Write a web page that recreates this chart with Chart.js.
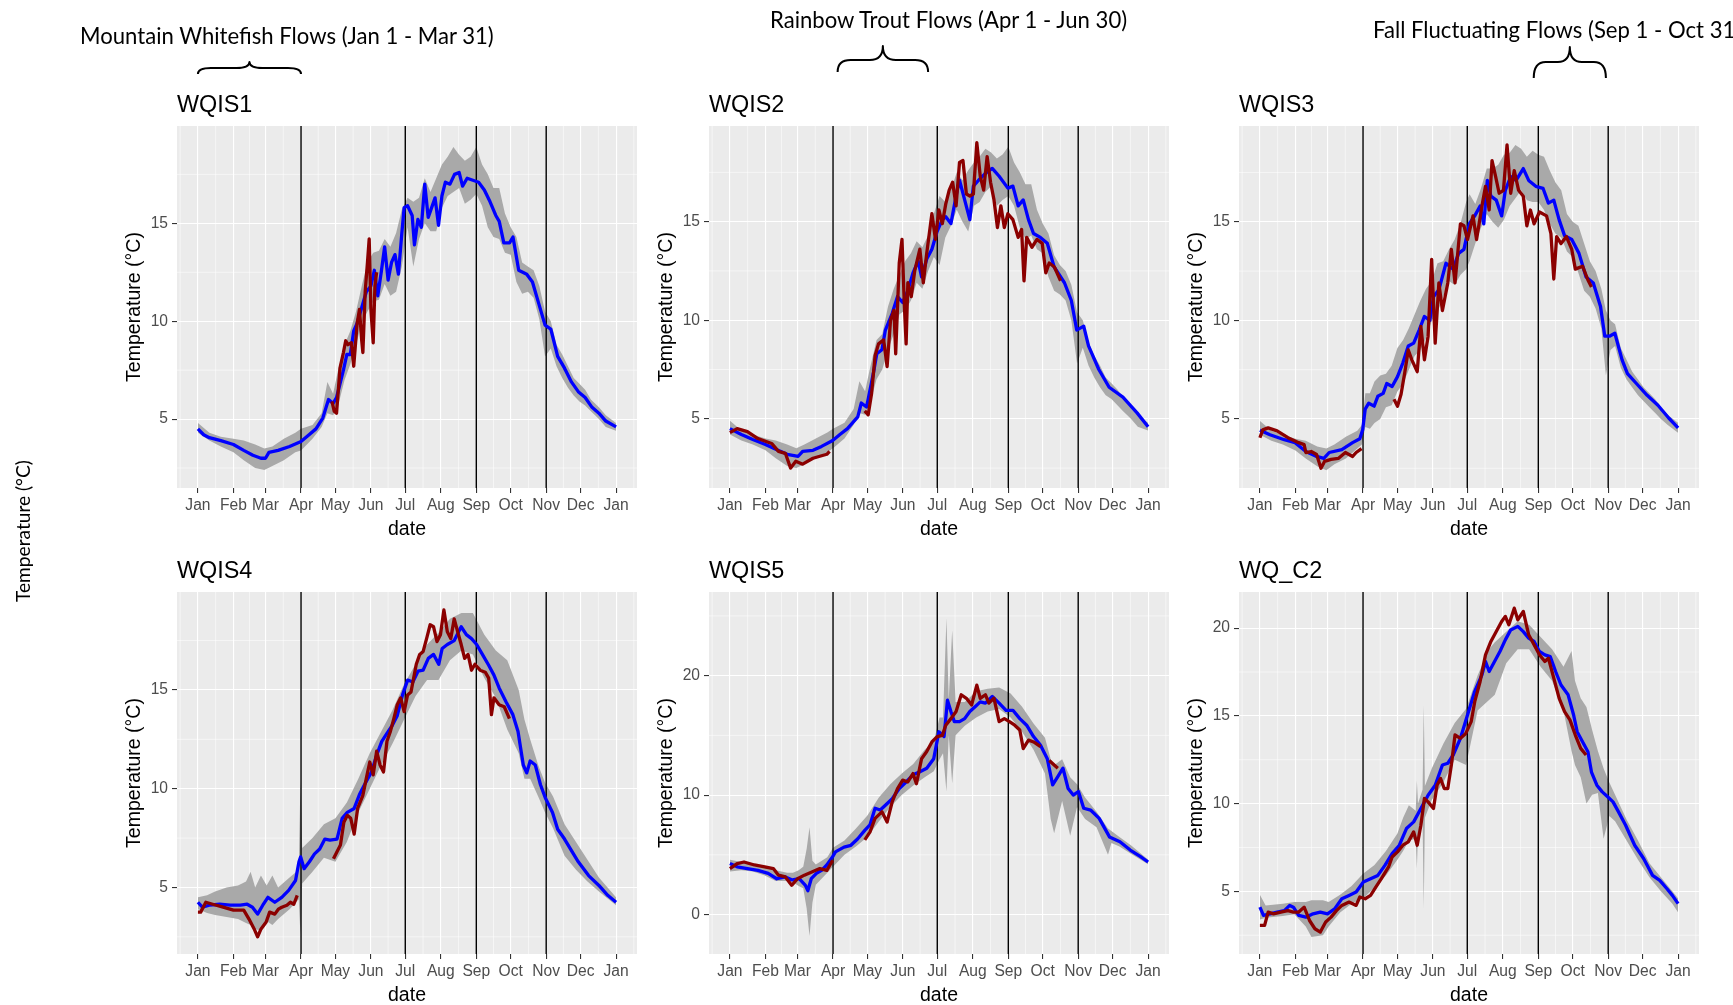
<!DOCTYPE html>
<html>
<head>
<meta charset="utf-8">
<title>Water temperature by station</title>
<script src="https://cdn.jsdelivr.net/npm/chart.js@4.4.1/dist/chart.umd.min.js"></script>
<style>
  html, body { margin: 0; padding: 0; background: #ffffff; }
  body { position: relative; width: 1733px; height: 1005px; overflow: hidden; }
  canvas { position: absolute; }
  #overlay { position: absolute; left: 0; top: 0; z-index: 5; pointer-events: none; }
  #overlay text { font-family: Lato, 'Open Sans', sans-serif; fill: #000000; }
</style>
</head>
<body>
<svg id="overlay" width="1733" height="1005" xmlns="http://www.w3.org/2000/svg">
  <text id="note1" x="80" y="43.5">Mountain Whitefish Flows (Jan 1 - Mar 31)</text>
  <text id="note2" x="770" y="28">Rainbow Trout Flows (Apr 1 - Jun 30)</text>
  <text id="note3" x="1373" y="37.5">Fall Fluctuating Flows (Sep 1 - Oct 31)</text>
  <text id="sideLabel" transform="translate(22,531) rotate(-90)" text-anchor="middle" dominant-baseline="central">Temperature (°C)</text>
</svg>
<script>
// ---- calendar axis (day of year, non-leap) ----
const MONTH_STARTS = [0, 31, 59, 90, 120, 151, 181, 212, 243, 273, 304, 334, 365];
const MONTH_LABELS = ['Jan', 'Feb', 'Mar', 'Apr', 'May', 'Jun', 'Jul', 'Aug', 'Sep', 'Oct', 'Nov', 'Dec', 'Jan'];
const FLOW_CHANGES = [90, 181, 243, 304]; // Apr 1, Jul 1, Sep 1, Nov 1

// ---- WQIS1 ----
const wqis1Mean = [[0,4.5],[5,4.2],[10,4.05],[20,3.9],[31,3.7],[40,3.4],[48,3.15],[55,3.0],[59,3.0],[62,3.3],[70,3.4],[80,3.6],[90,3.85],[97,4.2],[103,4.5],[109,5.05],[114,6.0],[118,5.8],[121,6.1],[124,6.8],[127,7.5],[130,8.3],[133,8.3],[136,9.5],[139,9.9],[143,10.7],[147,11.5],[151,11.8],[154,12.6],[157,11.3],[160,12.5],[163,13.8],[166,12.1],[169,13.0],[172,13.4],[175,12.4],[178,14.5],[180,15.8],[183,15.9],[187,15.4],[189,13.9],[192,15.2],[195,14.8],[198,17.0],[201,15.3],[204,15.8],[207,16.3],[210,14.9],[213,16.4],[216,17.1],[220,17.0],[224,17.5],[228,17.6],[231,16.9],[235,17.3],[240,17.2],[245,17.1],[250,16.7],[255,16.1],[260,15.4],[263,15.1],[267,14.0],[272,14.0],[275,14.3],[280,12.6],[287,12.4],[292,12.0],[297,11.0],[303,9.8],[308,9.6],[314,8.2],[320,7.6],[326,6.9],[332,6.4],[338,6.1],[344,5.6],[350,5.3],[356,4.9],[365,4.6]];
const wqis1Obs = [[117,5.9],[119,5.4],[121,5.3],[124,7.6],[127,8.4],[129,9.0],[131,8.8],[134,8.9],[136,7.7],[139,9.9],[141,10.6],[143,9.0],[144,8.4],[146,11.5],[148,13.0],[149.5,14.2],[151,10.6],[153,8.9],[154.5,11.8],[156,12.5]];
const wqis1Range = [[0,4.3,4.8],[10,3.9,4.3],[20,3.6,4.1],[31,3.3,4.0],[40,2.9,3.9],[50,2.5,3.7],[58,2.4,3.5],[65,2.6,3.6],[75,2.9,4.0],[85,3.3,4.3],[90,3.4,4.5],[100,4.0,4.7],[108,4.6,5.3],[113,5.3,6.9],[118,5.2,6.3],[122,5.6,7.4],[128,7.0,8.8],[133,7.8,9.5],[138,8.8,10.5],[143,9.9,11.8],[148,10.5,13.0],[153,11.0,13.5],[158,11.1,13.6],[163,11.9,14.2],[168,11.3,13.8],[173,11.5,14.5],[178,12.8,15.7],[183,14.8,16.3],[188,12.8,16.1],[193,14.2,16.3],[198,15.0,17.3],[203,14.6,16.6],[208,14.6,17.3],[213,15.8,18.0],[218,16.4,18.4],[223,16.6,18.9],[228,16.8,18.5],[233,16.0,18.2],[238,16.2,18.4],[243,16.5,18.9],[248,15.9,18.0],[253,14.8,17.5],[258,14.3,16.8],[263,14.2,16.8],[268,13.5,15.5],[273,13.4,14.8],[278,12.0,14.3],[283,11.4,13.0],[288,11.5,12.8],[293,11.2,12.6],[298,10.1,11.8],[303,8.2,10.5],[308,8.6,10.0],[313,7.7,8.8],[318,7.1,8.3],[323,6.6,7.7],[328,6.2,7.1],[333,5.9,6.8],[338,5.7,6.5],[343,5.4,6.0],[350,5.0,5.6],[356,4.6,5.2],[365,4.4,4.8]];

// ---- WQIS2 ----
const wqis2Mean = [[0,4.5],[10,4.2],[20,3.95],[31,3.7],[42,3.4],[50,3.2],[59.6,3.1],[63.5,3.35],[72.5,3.4],[80,3.6],[89.7,3.9],[96,4.2],[102.6,4.5],[111.6,5.1],[114.7,5.8],[119.2,5.6],[120.7,6.0],[125.2,7.3],[128.2,8.3],[132.7,8.5],[135.7,9.5],[141.7,10.35],[146.3,11.2],[150.8,10.9],[155.3,11.5],[159.8,12.4],[164.3,13.0],[167.3,12.2],[171.8,13.1],[176.3,13.6],[180.8,14.5],[185.4,15.1],[188.4,15.25],[192.9,14.9],[197.4,16.3],[200.4,17.1],[204.9,16.1],[209.4,15.1],[212.5,16.8],[217,17.1],[223,17.45],[229,17.7],[235,17.3],[242.6,16.7],[247,16.8],[251.6,15.8],[256,16.1],[260.6,15.1],[265,14.4],[271,14.2],[277,13.9],[283,12.7],[292,11.9],[298,11.0],[302.7,9.5],[308.8,9.7],[313,8.7],[322,7.5],[331,6.6],[343,6.1],[355.4,5.3],[365,4.6]];
const wqis2Obs = [[0,4.3],[6.3,4.5],[15.3,4.35],[24.4,4.0],[36.4,3.75],[42.4,3.35],[48.4,3.25],[53,2.5],[57.5,2.85],[63.5,2.7],[72.5,3.0],[78.5,3.1],[84.6,3.2],[87,3.35],[100,null],[117.7,5.4],[120.7,5.2],[123.7,6.3],[126.7,8.2],[129.7,8.8],[134.2,9.0],[137.2,7.65],[140.2,10.0],[143.2,10.5],[144.7,8.3],[147.8,12.9],[150.2,14.1],[152.3,10.7],[153.8,8.8],[155.3,11.9],[158.3,11.2],[161.3,12.5],[165.8,13.6],[168.8,11.9],[171.8,13.4],[176.3,15.4],[179.4,14.1],[182.4,15.6],[185.4,14.9],[188.4,15.9],[191.4,16.6],[194.4,17.0],[197.4,15.8],[200.4,18.0],[203.4,18.1],[206.4,16.4],[209.4,16.3],[212.5,16.4],[215.5,19.0],[218.5,17.3],[221.5,16.6],[224.5,18.3],[227.5,17.0],[230.5,16.1],[233.5,14.7],[236.5,15.8],[239.5,14.7],[242.6,15.4],[247,15.1],[251.6,14.2],[254.6,14.6],[256.7,12.0],[259,14.2],[263.6,13.7],[268,14.1],[272.6,13.9],[275.7,12.4],[278.7,12.9],[283.2,12.7],[288.6,12.0]];
const wqis2Range = [[0,4.2,4.9],[10,3.9,4.4],[20,3.7,4.2],[31,3.4,4.0],[40,3.0,3.9],[50,2.6,3.7],[58,2.5,3.5],[65,2.7,3.7],[75,3.0,4.0],[85,3.3,4.3],[90,3.5,4.5],[100,4.0,4.8],[108,4.7,5.5],[113,5.3,6.9],[118,5.2,6.4],[122,5.7,7.5],[128,7.0,9.0],[133,7.5,9.3],[138,8.5,10.7],[143,9.3,11.6],[148,10.3,12.3],[153,10.5,13.0],[158,11.0,13.4],[163,11.9,14.0],[168,11.6,13.7],[173,12.5,14.3],[178,13.2,15.4],[183,12.8,16.3],[188,14.2,16.0],[193,14.8,16.6],[198,15.6,17.5],[203,15.0,17.1],[208,14.5,17.6],[213,15.8,18.0],[218,16.0,18.3],[223,16.5,18.7],[228,16.8,18.5],[233,15.8,18.2],[238,16.1,18.4],[243,16.3,18.8],[248,15.8,18.0],[253,14.7,17.5],[258,14.1,16.9],[263,14.3,16.9],[268,13.6,15.6],[273,13.4,14.9],[278,12.2,14.4],[283,11.5,13.3],[288,11.3,12.8],[293,11.0,12.5],[298,10.0,11.8],[303,7.8,10.4],[308,8.6,10.0],[313,7.7,8.9],[318,7.1,8.2],[323,6.6,7.7],[328,6.2,7.1],[333,6.0,6.8],[338,5.7,6.5],[343,5.4,6.1],[350,5.0,5.6],[356,4.6,5.2],[365,4.4,4.8]];

// ---- WQIS3 ----
const wqis3Mean = [[0,4.43],[8.8,4.2],[21.3,3.95],[30.7,3.8],[40.1,3.35],[49.5,3.1],[55.8,3.0],[60.5,3.3],[71.5,3.45],[80.9,3.8],[87.2,4.0],[89.7,4.45],[91.9,5.5],[95,5.8],[99.7,5.65],[102.9,6.15],[107.6,6.3],[110.7,6.8],[115.4,6.65],[120.1,7.15],[124.8,7.85],[129.5,8.7],[134.2,8.85],[138.9,9.5],[143.6,10.2],[148.3,10.0],[151.5,11.2],[156.2,11.55],[162.4,12.9],[168.7,12.6],[173.4,13.4],[178.1,13.6],[182.8,14.9],[187.5,15.3],[192.2,15.8],[195.4,14.9],[198.5,17.1],[201.6,16.3],[206.3,16.1],[211,15.3],[214.2,16.6],[218.9,17.3],[223.6,17.1],[229.9,17.7],[234.6,17.1],[240.8,16.8],[247.1,16.7],[251.8,15.95],[256.5,16.1],[261.2,15.1],[265.9,14.3],[272.2,14.1],[278.5,13.4],[284.7,12.2],[291,11.9],[297.3,10.7],[301,9.2],[305.1,9.2],[309.8,9.35],[316.1,8.0],[320.8,7.3],[328.6,6.8],[338,6.2],[347.4,5.7],[356.8,5.05],[365,4.55]];
const wqis3Obs = [[0,4.05],[2.5,4.45],[7.2,4.55],[15,4.4],[24.5,4.05],[33.9,3.8],[38.6,3.7],[40.1,3.3],[44.8,3.35],[49.5,3.2],[53.3,2.5],[56.4,2.85],[62.1,2.95],[68.4,3.0],[74.6,3.3],[80.9,3.1],[84,3.3],[88.7,3.5],[100,null],[117,6.0],[120.1,5.65],[123.2,6.25],[126.4,7.35],[129.5,8.5],[132.6,8.0],[137.3,7.4],[140.5,9.7],[143.6,8.0],[146.8,9.2],[149.9,13.1],[153,8.85],[156.2,11.9],[159.3,10.5],[164,11.9],[167.1,13.6],[170.3,11.9],[175,14.9],[178.1,14.8],[181.2,14.1],[186,15.3],[189.1,14.1],[193.8,15.8],[196.9,16.8],[200.1,15.6],[202.6,18.1],[205.7,17.3],[208.8,16.45],[212.6,16.6],[215.7,18.9],[218.9,16.45],[222,17.6],[225.8,16.6],[229.9,16.3],[233,14.8],[236.1,15.6],[239.3,14.9],[244,15.5],[250.2,15.3],[254,14.4],[256.5,12.1],[259,14.25],[262.8,13.9],[267.5,14.25],[272.2,13.6],[275.3,12.6],[281.6,12.75],[286.3,12.05],[289.4,11.7]];
const wqis3Range = [[0,4.2,4.9],[10,3.9,4.4],[20,3.7,4.2],[31,3.4,4.0],[40,3.0,3.9],[50,2.6,3.6],[58,2.4,3.5],[65,2.7,3.7],[75,3.0,4.1],[85,3.5,4.4],[89,3.7,4.7],[92,4.6,6.3],[96,4.5,6.3],[100,4.8,6.9],[105,5.0,7.2],[110,5.6,7.3],[115,5.7,7.7],[120,6.4,8.6],[125,6.8,9.0],[130,7.5,9.6],[135,8.2,10.3],[140,8.5,11.0],[145,9.1,11.6],[150,10.0,12.0],[155,10.4,12.9],[160,11.2,13.0],[165,12.0,13.6],[170,11.8,14.1],[175,12.3,14.9],[180,12.6,16.0],[183,13.0,16.4],[188,13.9,15.9],[193,14.7,16.7],[198,15.4,17.7],[203,15.0,17.7],[208,14.7,17.9],[213,15.1,18.4],[218,15.8,18.5],[223,16.2,18.9],[228,16.6,18.7],[233,16.1,18.3],[238,16.0,18.6],[243,16.0,18.4],[248,15.6,18.3],[253,14.9,17.6],[258,14.4,17.0],[263,14.2,16.6],[268,13.5,15.4],[273,13.2,15.0],[278,12.4,14.8],[283,11.5,13.9],[288,11.2,13.0],[293,10.6,12.5],[298,9.6,11.6],[302,7.2,10.5],[306,8.5,10.0],[310,8.7,9.8],[315,7.6,8.6],[320,7.0,8.0],[325,6.6,7.4],[330,6.2,7.0],[335,5.9,6.6],[340,5.6,6.3],[345,5.3,6.0],[350,5.0,5.6],[356,4.7,5.2],[365,4.3,4.8]];

// ---- WQIS4 ----
const wqis4Mean = [[0,4.25],[3.9,4.0],[9.9,4.1],[19,4.15],[28,4.1],[37,4.1],[43,4.15],[47.6,4.0],[52.1,3.65],[56.6,4.1],[61.1,4.5],[67.1,4.25],[73.2,4.5],[79.2,4.85],[85.2,5.35],[88.2,6.3],[89.7,6.55],[92.7,5.95],[97.3,6.3],[101.8,6.7],[106.3,6.95],[110.8,7.45],[115.3,7.4],[121.4,7.45],[125.9,8.5],[130.4,8.8],[136.4,9.0],[141,9.7],[145.4,10.2],[151.5,10.85],[156,11.7],[160.5,12.4],[165,12.8],[169.6,13.2],[174,13.7],[178.6,14.75],[183.1,15.5],[187.6,15.4],[192.1,15.95],[196.6,16.0],[201.1,16.6],[205.7,16.8],[210.2,16.3],[213.2,17.1],[217.7,17.3],[223.7,17.5],[229.8,18.2],[234.3,17.8],[238.8,17.6],[243.3,17.3],[247.8,16.85],[253.8,16.25],[258.4,15.75],[262.9,15.1],[268.9,14.4],[274.9,13.75],[279.4,12.9],[284,11.2],[287,10.8],[290,11.4],[294.5,11.2],[299,10.2],[303.5,9.5],[309.5,8.8],[314,7.95],[320,7.45],[324.6,7.0],[332,6.3],[341,5.6],[350,5.1],[357.7,4.6],[365,4.25]];
const wqis4Obs = [[0,3.75],[2.4,3.75],[6.9,4.25],[12.9,4.15],[22,4.0],[31,3.85],[40,3.85],[44.6,3.4],[49.1,2.9],[52.1,2.5],[55.1,2.9],[59.6,3.25],[62.6,3.75],[67.1,3.65],[70.2,3.9],[73.2,4.0],[77.7,4.1],[80.7,4.25],[83.7,4.15],[86.7,4.6],[100,null],[118.3,6.45],[121.3,6.8],[124.4,7.15],[127.4,8.3],[130.4,8.65],[133.4,8.5],[136.4,7.7],[139.4,9.0],[143.9,9.65],[146.9,10.5],[150,11.35],[153,10.7],[156,11.9],[159,11.2],[162,10.85],[165,12.4],[168,12.9],[171,13.55],[174,14.25],[177,14.6],[180,13.9],[183,14.75],[186,14.9],[190.6,16.3],[193.6,16.8],[196.6,16.95],[199.6,17.6],[202.7,18.3],[205.7,18.2],[208.7,17.45],[211.7,17.8],[214.7,19.05],[217.7,17.95],[220.7,17.6],[223.7,18.6],[226.7,17.95],[229.8,17.3],[232.8,16.6],[235.8,16.8],[238.8,16.0],[241.8,16.3],[246.3,16.0],[250.8,15.9],[253.8,15.6],[256.2,13.75],[258.4,14.6],[262.9,14.25],[267.4,14.15],[271.9,13.55]];
const wqis4Range = [[0,3.9,4.5],[8,3.7,4.6],[15,3.6,4.8],[25,3.5,5.0],[35,3.4,5.1],[42,3.2,5.3],[46,3.1,5.8],[50,2.9,5.0],[55,2.8,5.6],[60,3.3,5.1],[65,3.1,5.6],[70,3.4,5.0],[80,3.9,5.5],[88,4.4,5.9],[89.5,2.6,10.4],[91,5.2,7.0],[100,5.8,7.5],[110,6.5,8.2],[120,6.3,8.5],[130,7.3,9.3],[140,8.8,10.5],[150,10.0,11.8],[160,11.2,12.9],[170,12.3,14.0],[180,13.5,15.3],[190,14.7,16.3],[200,15.5,17.3],[210,15.5,17.9],[220,16.5,18.6],[230,17.0,18.9],[240,16.8,18.9],[250,15.6,17.8],[260,14.6,17.0],[270,13.0,16.5],[280,11.8,15.0],[285,10.5,13.5],[290,10.5,12.5],[297,9.6,11.2],[303,8.8,10.3],[310,8.0,9.6],[320,6.6,8.2],[330,5.9,7.3],[340,5.3,6.4],[350,4.8,5.5],[365,4.1,4.5]];

// ---- WQIS5 ----
const wqis5Mean = [[0,4.27],[6.3,4.0],[15.3,3.85],[24.4,3.7],[33.4,3.45],[40.9,3.0],[48.4,3.15],[54.5,2.9],[60.5,3.0],[65.9,2.45],[68,2.0],[71,3.0],[75.5,3.45],[80,3.7],[84.6,4.15],[89.7,4.85],[92.1,5.25],[99.6,5.65],[105.6,5.8],[111.6,6.35],[117.7,7.05],[122.2,7.5],[126.7,8.9],[131.2,8.75],[135.7,9.15],[141.7,9.7],[147.8,10.55],[153.8,11.1],[159.8,11.7],[165.8,11.95],[171.8,12.25],[177.9,13.05],[182.4,15.3],[186.9,14.9],[189.9,17.95],[192.9,17.0],[195.9,16.15],[200.4,16.15],[204.9,16.4],[209.4,17.0],[214,17.4],[218.5,17.8],[223,17.7],[229,18.25],[235,17.7],[241,17.1],[247,17.1],[253,16.4],[259,15.85],[265,14.9],[271,14.2],[277,13.05],[281.7,10.85],[286.2,11.55],[290.7,12.25],[295.2,10.55],[299.7,10.0],[304.2,10.3],[308.8,8.9],[314.8,8.75],[322.3,8.05],[331.3,6.5],[340.4,6.1],[349.4,5.4],[358.4,4.85],[365,4.4]];
const wqis5Obs = [[0,3.85],[6.3,4.27],[12.3,4.4],[21.4,4.15],[30.4,4.0],[37.9,3.85],[42.4,3.3],[48.4,3.15],[53.9,2.45],[59,3.0],[65,3.3],[72.5,3.6],[78.5,3.85],[84.6,3.7],[89.7,4.55],[100,null],[117.7,6.25],[122.2,6.9],[126.7,8.05],[132.7,8.6],[137.2,7.75],[141.7,9.45],[146.3,10.55],[150.8,11.25],[155.3,11.1],[159.8,11.8],[162.8,10.95],[167.3,13.05],[171.8,13.65],[176.3,14.45],[180.9,14.9],[185.4,15.0],[188.4,15.85],[192.9,16.4],[197.4,17.0],[201.9,18.4],[206.4,18.1],[211,17.55],[215.5,19.2],[218.5,18.1],[223,18.4],[226,17.7],[230.5,18.1],[235,16.15],[239.5,16.4],[244,16.15],[248.6,15.85],[253,15.45],[256,13.9],[260.6,14.6],[265.1,14.45],[271.1,14.05],[275,null],[278.7,12.9],[286.2,12.25]];
const wqis5Range = [[0,3.6,4.6],[10,3.7,4.4],[20,3.6,4.3],[30,3.3,4.0],[40,2.8,3.7],[50,2.8,3.5],[55,2.7,3.5],[60,2.4,3.7],[64,2.2,4.0],[67,0.5,5.5],[69.5,-1.8,7.3],[72,1.0,4.5],[75,2.5,4.2],[85,3.5,4.8],[90,4.0,5.6],[100,5.0,6.2],[110,5.7,7.2],[120,6.5,8.3],[130,7.8,9.8],[140,9.0,10.9],[150,10.0,11.8],[160,10.8,12.6],[170,11.5,13.8],[178,12.0,14.5],[183,13.0,16.5],[186,13.5,16.5],[189,10.3,24.8],[191,15.0,18.0],[194,11.0,23.8],[197,15.0,17.8],[205,15.8,17.8],[215,16.5,18.7],[225,17.0,18.9],[235,17.2,19.0],[245,16.5,18.5],[255,15.3,17.4],[265,13.8,16.0],[275,11.8,14.8],[280,8.0,13.0],[283,6.8,12.5],[290,9.5,13.0],[297,6.6,11.5],[303,9.0,10.9],[310,8.0,9.8],[320,7.3,8.6],[330,5.0,7.2],[333,6.0,7.0],[340,5.7,6.5],[350,5.1,5.8],[365,4.2,4.6]];

// ---- WQ_C2 ----
const wqc2Mean = [[0,4.1],[3.1,3.63],[8.8,3.72],[15.1,3.82],[21.3,3.9],[26,4.2],[29.2,4.1],[33.9,3.63],[40.1,3.53],[46.4,3.72],[52.7,3.82],[59,3.72],[65.2,4.0],[71.5,4.58],[77.8,4.77],[84,4.96],[90.3,5.53],[96.6,5.72],[102.9,5.91],[109.1,6.48],[115.4,7.15],[121.7,7.63],[127.9,8.58],[134.2,8.96],[140.5,9.72],[146.8,10.48],[153,11.05],[159.3,12.2],[164,12.3],[168.7,12.77],[175,13.72],[181.2,15.05],[187.5,16.4],[193.8,17.34],[196.9,18.1],[200.1,17.53],[204.8,18.1],[209.5,18.67],[214.2,19.33],[218.9,19.9],[225.1,20.1],[229.9,19.8],[234.6,19.43],[239.3,19.24],[244,18.67],[248.7,18.48],[253.4,18.38],[258.1,17.53],[262.8,16.76],[269,16.2],[273.8,15.05],[276.9,14.1],[281.6,13.53],[286.3,12.96],[289.4,11.8],[294.1,11.05],[298.8,10.67],[303.5,10.39],[308.2,10.1],[313,9.53],[319.2,8.77],[327.1,7.63],[334.9,6.87],[342.7,5.91],[349,5.63],[355.3,5.15],[360,4.77],[365,4.3]];
const wqc2Obs = [[0,3.06],[4.1,3.06],[7.2,3.82],[11.9,3.72],[18.2,3.82],[24.5,3.9],[29.2,3.82],[33.9,3.82],[38.6,4.1],[43.3,3.34],[48,2.87],[52.7,2.68],[57.4,3.25],[62.1,3.53],[66.8,3.9],[71.5,4.2],[77.8,4.39],[84,4.2],[87.2,4.68],[91.9,4.58],[96.6,4.77],[101.3,5.25],[106,5.72],[112.3,6.39],[115.4,6.96],[120.1,7.25],[124.8,7.63],[129.5,7.82],[134.2,8.39],[137.3,7.63],[140.5,8.77],[143.6,10.29],[146.8,10.1],[151.5,9.72],[154.6,11.05],[157.7,11.43],[160.9,10.86],[164,10.86],[167.1,12.2],[170.3,13.91],[175,13.72],[179.7,14.0],[184.4,14.67],[187.5,15.81],[192.2,16.96],[196.9,18.48],[201.6,19.24],[206.3,19.81],[211,20.38],[214.2,20.67],[217.3,20.19],[222,21.14],[225.1,20.48],[229.9,20.95],[234.6,19.62],[239.3,19.05],[244,18.48],[248.7,18.1],[251.8,18.29],[256.5,17.15],[261.2,16.0],[265.9,15.24],[270.6,14.77],[275.3,13.91],[280,13.15],[284.7,12.77]];
const wqc2Range = [[0,3.4,4.8],[5,3.5,4.2],[20,3.6,4.3],[30,3.7,4.4],[40,3.0,4.4],[45,2.4,4.5],[55,2.5,4.5],[60,3.0,4.4],[70,3.8,4.8],[80,4.3,5.3],[90,4.6,6.0],[100,5.2,6.5],[110,5.9,7.3],[120,6.8,8.3],[125,7.3,9.2],[130,7.9,9.9],[136,8.0,9.6],[137,6.3,11.3],[138,8.3,10.0],[142,9.0,10.8],[143,4.0,15.6],[144,9.2,11.0],[150,10.2,12.0],[160,11.2,13.4],[170,12.5,14.6],[180,12.2,15.4],[190,15.3,17.3],[200,15.9,18.8],[205,16.2,19.2],[215,18.0,19.8],[225,18.8,20.4],[235,18.8,20.2],[245,17.8,19.5],[255,17.0,18.8],[265,15.3,17.8],[272,13.0,18.7],[275,12.2,17.0],[280,11.5,16.0],[285,10.0,15.5],[290,10.5,14.2],[295,10.6,13.0],[300,8.0,12.0],[305,9.3,11.2],[310,9.0,10.5],[320,7.9,9.1],[330,6.8,7.9],[340,5.8,6.6],[350,5.0,5.8],[360,4.3,5.0],[365,3.8,4.6]];

// ---- value axes per station ----
const yLimits = { WQIS1: [1.48, 19.97], WQIS2: [1.49, 19.85], WQIS3: [1.5, 19.86], WQIS4: [1.63, 19.96], WQIS5: [-3.3, 27.0], WQ_C2: [1.43, 22.06] };
const yBreaks = { WQIS1: [5, 10, 15], WQIS2: [5, 10, 15], WQIS3: [5, 10, 15], WQIS4: [5, 10, 15], WQIS5: [0, 10, 20], WQ_C2: [5, 10, 15, 20] };

// ---- page layout ----
const FONT = "'Liberation Sans', Arial, sans-serif";
const AREA_W = 460, AREA_H = 362;
const Y_AXIS_W = 100, X_AXIS_H = 60, PAD_RIGHT = 20;
const stations = [
  { name: 'WQIS1', mean: wqis1Mean, obs: wqis1Obs, range: wqis1Range, left: 177, top: 126, brace: { from: 0, to: 90, tip: 62, mid: 68, end: 74 } },
  { name: 'WQIS2', mean: wqis2Mean, obs: wqis2Obs, range: wqis2Range, left: 709, top: 126, brace: { from: 94, to: 173, tip: 46, mid: 60, end: 72 } },
  { name: 'WQIS3', mean: wqis3Mean, obs: wqis3Obs, range: wqis3Range, left: 1239, top: 126, brace: { from: 239, to: 302, tip: 47, mid: 62, end: 78 } },
  { name: 'WQIS4', mean: wqis4Mean, obs: wqis4Obs, range: wqis4Range, left: 177, top: 592 },
  { name: 'WQIS5', mean: wqis5Mean, obs: wqis5Obs, range: wqis5Range, left: 709, top: 592 },
  { name: 'WQ_C2', mean: wqc2Mean, obs: wqc2Obs, range: wqc2Range, left: 1239, top: 592 }
];

// minor breaks sit half-way between the major ones (ggplot style)
function minorBreaks(major, lo, hi, stepBefore, stepAfter) {
  const out = [];
  for (let i = 0; i < major.length - 1; i++) out.push((major[i] + major[i + 1]) / 2);
  out.unshift(major[0] - stepBefore / 2);
  out.push(major[major.length - 1] + stepAfter / 2);
  return out.filter(v => v > lo && v < hi);
}

const xLo = -365 * 0.05, xHi = 365 * 1.05;
const xMinor = minorBreaks(MONTH_STARTS, xLo, xHi, 31, 31);

const ggPanel = {
  id: 'ggPanel',
  beforeDraw(chart, args, opts) {
    const { ctx, chartArea: a, scales: { x, y } } = chart;
    ctx.save();
    ctx.fillStyle = '#ebebeb';
    ctx.fillRect(a.left, a.top, a.right - a.left, a.bottom - a.top);
    ctx.strokeStyle = '#ffffff';
    ctx.lineWidth = 0.55;
    xMinor.forEach(v => {
      const px = x.getPixelForValue(v);
      ctx.beginPath(); ctx.moveTo(px, a.top); ctx.lineTo(px, a.bottom); ctx.stroke();
    });
    const step = opts.yMajor[1] - opts.yMajor[0];
    minorBreaks(opts.yMajor, y.min, y.max, step, step).forEach(v => {
      const py = y.getPixelForValue(v);
      ctx.beginPath(); ctx.moveTo(a.left, py); ctx.lineTo(a.right, py); ctx.stroke();
    });
    ctx.restore();
  },
  afterDatasetDraw(chart, args) {
    // flow-period boundaries go above the envelope, below the lines
    if (!chart.data.datasets[args.index].envelopeTop) return;
    const { ctx, chartArea: a, scales: { x } } = chart;
    ctx.save();
    ctx.strokeStyle = '#000000';
    ctx.lineWidth = 1.4;
    FLOW_CHANGES.forEach(v => {
      const px = x.getPixelForValue(v);
      ctx.beginPath(); ctx.moveTo(px, a.top); ctx.lineTo(px, a.bottom); ctx.stroke();
    });
    ctx.restore();
  },
  afterDraw(chart, args, opts) {
    const { ctx, chartArea: a, scales: { x } } = chart;
    ctx.save();
    ctx.fillStyle = '#000000';
    ctx.font = '23.4px ' + FONT;
    ctx.textAlign = 'left';
    ctx.textBaseline = 'alphabetic';
    ctx.fillText(opts.title, a.left, a.top - 14.5);

    ctx.font = '19.5px ' + FONT;
    ctx.textAlign = 'center';
    ctx.textBaseline = 'middle';
    ctx.fillText('date', (a.left + a.right) / 2, a.bottom + 41.5);

    ctx.translate(a.left - 42, (a.top + a.bottom) / 2);
    ctx.rotate(-Math.PI / 2);
    ctx.fillText('Temperature (°C)', 0, 0);
    ctx.restore();

    const b = opts.brace;
    if (b) {
      const x0 = x.getPixelForValue(b.from), x1 = x.getPixelForValue(b.to);
      const xc = (x0 + x1) / 2, r = Math.min(13, (x1 - x0) / 6);
      ctx.save();
      ctx.strokeStyle = '#000000';
      ctx.lineWidth = 2;
      ctx.lineJoin = 'round';
      ctx.beginPath();
      ctx.moveTo(x0, b.end);
      ctx.quadraticCurveTo(x0, b.mid, x0 + r, b.mid);
      ctx.lineTo(xc - r, b.mid);
      ctx.quadraticCurveTo(xc, b.mid, xc, b.tip);
      ctx.quadraticCurveTo(xc, b.mid, xc + r, b.mid);
      ctx.lineTo(x1 - r, b.mid);
      ctx.quadraticCurveTo(x1, b.mid, x1, b.end);
      ctx.stroke();
      ctx.restore();
    }
  }
};

const pairs = arr => arr.map(([d, v]) => ({ x: d, y: v }));

stations.forEach((s, i) => {
  const topRow = i < 3;
  const padTop = topRow ? s.top : 51;
  const canvas = document.createElement('canvas');
  const w = Y_AXIS_W + AREA_W + PAD_RIGHT;
  const h = padTop + AREA_H + X_AXIS_H;
  canvas.width = w; canvas.height = h;
  canvas.style.width = w + 'px'; canvas.style.height = h + 'px';
  canvas.style.left = (s.left - Y_AXIS_W) + 'px';
  canvas.style.top = (s.top - padTop) + 'px';
  document.body.appendChild(canvas);

  const [yMin, yMax] = yLimits[s.name];
  const yMajor = yBreaks[s.name];
  const gridCommon = { color: '#ffffff', lineWidth: 1.1, tickColor: '#333333', tickLength: 5, tickWidth: 1.1 };
  const tickFont = { family: FONT, size: 15.6 };

  new Chart(canvas, {
    type: 'line',
    data: {
      datasets: [
        { label: 'observed', data: pairs(s.obs), borderColor: '#8b0000', borderWidth: 3.3, pointRadius: 0, fill: false, spanGaps: false, borderJoinStyle: 'round' },
        { label: 'mean', data: pairs(s.mean), borderColor: '#0000ff', borderWidth: 3.3, pointRadius: 0, fill: false, borderJoinStyle: 'round' },
        { label: 'max', data: s.range.map(([d, lo, hi]) => ({ x: d, y: hi })), borderColor: 'rgba(0,0,0,0)', borderWidth: 0, pointRadius: 0, fill: '+1', backgroundColor: '#a9a9a9', envelopeTop: true },
        { label: 'min', data: s.range.map(([d, lo, hi]) => ({ x: d, y: lo })), borderColor: 'rgba(0,0,0,0)', borderWidth: 0, pointRadius: 0, fill: false }
      ]
    },
    options: {
      responsive: false,
      animation: false,
      devicePixelRatio: 1,
      events: [],
      layout: { padding: { left: 0, right: PAD_RIGHT, top: padTop, bottom: 0 }, autoPadding: false },
      elements: { line: { tension: 0 }, point: { radius: 0 } },
      plugins: {
        legend: { display: false },
        tooltip: { enabled: false },
        title: { display: false },
        ggPanel: { title: s.name, brace: s.brace, yMajor }
      },
      scales: {
        x: {
          type: 'linear', min: xLo, max: xHi,
          afterBuildTicks: sc => { sc.ticks = MONTH_STARTS.map(v => ({ value: v })); },
          afterFit: sc => { sc.height = X_AXIS_H; },
          ticks: { autoSkip: false, maxRotation: 0, minRotation: 0, color: '#4d4d4d', font: tickFont, padding: 3, callback: (v, idx) => MONTH_LABELS[idx] },
          grid: gridCommon,
          border: { display: false }
        },
        y: {
          type: 'linear', min: yMin, max: yMax,
          afterBuildTicks: sc => { sc.ticks = yMajor.map(v => ({ value: v })); },
          afterFit: sc => { sc.width = Y_AXIS_W; },
          ticks: { autoSkip: false, color: '#4d4d4d', font: tickFont, padding: 4, callback: v => String(v) },
          grid: gridCommon,
          border: { display: false }
        }
      }
    },
    plugins: [ggPanel]
  });
});

// size the free annotations to their measured extents
(function fitNotes() {
  const n1 = document.getElementById('note1');
  n1.setAttribute('font-size', '100');
  const size = 100 * 414 / n1.getComputedTextLength();
  ['note1', 'note2', 'note3'].forEach(id => document.getElementById(id).setAttribute('font-size', size.toFixed(2)));
  const side = document.getElementById('sideLabel');
  side.setAttribute('font-size', '100');
  side.setAttribute('font-size', (100 * 142 / side.getComputedTextLength()).toFixed(2));
})();
</script>
</body>
</html>
